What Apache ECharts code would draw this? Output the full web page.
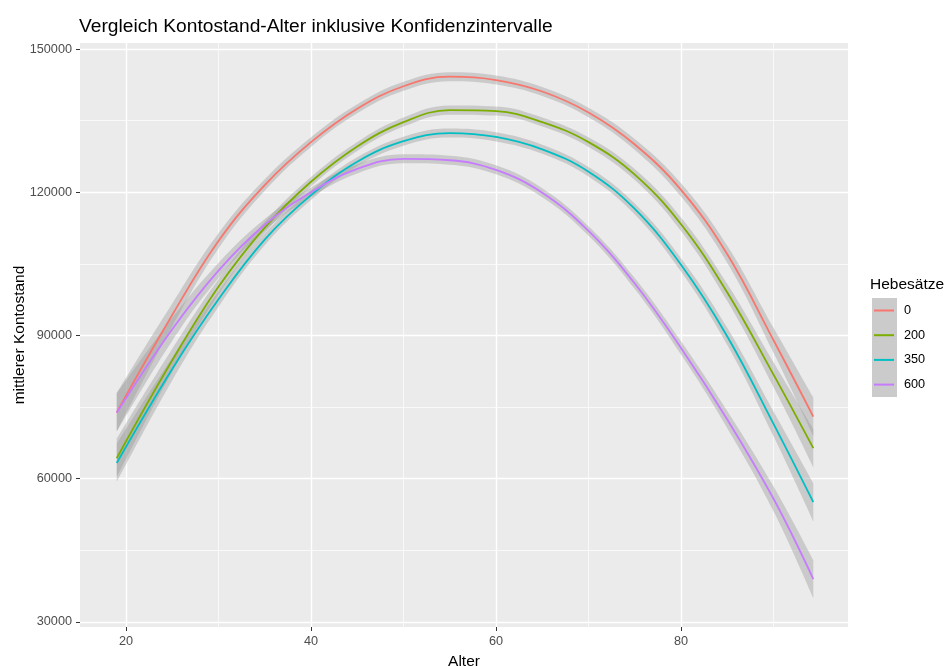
<!DOCTYPE html>
<html>
<head>
<meta charset="utf-8">
<script src="https://cdn.jsdelivr.net/npm/echarts@6/dist/echarts.min.js"></script>
<style>
  html, body { margin: 0; padding: 0; background: #ffffff; }
  #chart { width: 948px; height: 666px; }
</style>
</head>
<body>
<div id="chart"></div>
<script>
// Alter (x) and smoothed mean account balance per Hebesatz group
const ages = [19, 25, 30, 35, 40, 45, 50, 55, 60, 65, 70, 75, 80, 85, 90, 94.3];
const kontostand0   = [73900, 94300, 109800, 121500, 130500, 137500, 142200, 144200, 143500, 141100, 136700, 130000, 120500, 107000, 89000, 73000];
const kontostand200 = [64300, 84800, 100200, 112600, 122200, 129600, 134700, 137200, 137000, 134700, 130500, 123700, 113300, 99000, 81800, 66400];
const kontostand350 = [63300, 83000, 97600, 110100, 119400, 126400, 130700, 132400, 131600, 129000, 124300, 116500, 104800, 89800, 71500, 55100];
const kontostand600 = [73800, 91300, 103600, 113200, 120000, 124900, 127000, 126700, 124700, 119900, 111900, 100900, 87400, 72400, 55800, 39000];
// half width of the confidence band at each age
const bandHalf = [4000, 2400, 1600, 1200, 1000, 950, 950, 950, 950, 950, 1000, 1150, 1400, 1800, 2600, 4000];

const groups = ['0', '200', '350', '600'];
const groupValues = [kontostand0, kontostand200, kontostand350, kontostand600];
const groupColors = ['#F8766D', '#7CAE00', '#00BFC4', '#C77CFF'];

const xTicks = [20, 40, 60, 80];
const xMinorTicks = [30, 50, 70, 90];
const yTicks = [30000, 60000, 90000, 120000, 150000];
const yMinorTicks = [45000, 75000, 105000, 135000];

const FONT = 'Liberation Sans, Arial, sans-serif';
const SMOOTH = 0.4;

function gridLines() {
  const lines = [];
  xTicks.forEach(v => lines.push({ xAxis: v, lineStyle: { width: 1.4 } }));
  xMinorTicks.forEach(v => lines.push({ xAxis: v, lineStyle: { width: 0.7 } }));
  yTicks.forEach(v => lines.push({ yAxis: v, lineStyle: { width: 1.4 } }));
  yMinorTicks.forEach(v => lines.push({ yAxis: v, lineStyle: { width: 0.7 } }));
  return lines;
}

// Band rows are stored as [value, age] so that stacking acts on the value column.
const series = [];
groupValues.forEach((vals, i) => {
  const lower = {
    type: 'line', stack: 'band' + i, silent: true, smooth: SMOOTH,
    encode: { x: 1, y: 0 },
    symbol: 'none', lineStyle: { opacity: 0 }, z: 2,
    data: ages.map((a, k) => [vals[k] - bandHalf[k], a])
  };
  if (i === 0) {
    lower.markLine = {
      silent: true, symbol: 'none', z: 1, animation: false,
      label: { show: false },
      lineStyle: { color: '#ffffff', type: 'solid' },
      data: gridLines()
    };
  }
  series.push(lower);
  series.push({
    type: 'line', stack: 'band' + i, silent: true, smooth: SMOOTH,
    encode: { x: 1, y: 0 },
    symbol: 'none', lineStyle: { opacity: 0 }, z: 2,
    areaStyle: { color: 'rgba(153,153,153,0.4)', opacity: 1 },
    data: ages.map((a, k) => [2 * bandHalf[k], a])
  });
});
groupValues.forEach((vals, i) => {
  series.push({
    name: groups[i], type: 'line', smooth: SMOOTH,
    symbol: 'none', z: 3,
    lineStyle: { color: groupColors[i], width: 1.8 },
    itemStyle: { color: groupColors[i] },
    data: ages.map((a, k) => [a, vals[k]])
  });
});

const chart = echarts.init(document.getElementById('chart'), null, { renderer: 'canvas' });
chart.setOption({
  animation: false,
  backgroundColor: '#ffffff',
  title: [
    {
      text: 'Vergleich Kontostand-Alter inklusive Konfidenzintervalle',
      left: 79, top: 17, padding: 0,
      textStyle: { fontFamily: FONT, fontSize: 19.2, fontWeight: 'normal', color: '#000000' }
    },
    {
      text: 'Hebesätze',
      left: 870, top: 277, padding: 0,
      textStyle: { fontFamily: FONT, fontSize: 15.5, fontWeight: 'normal', color: '#000000' }
    }
  ],
  grid: {
    left: 80, top: 43, width: 768, height: 584,
    outerBoundsMode: 'none', containLabel: false,
    show: true, backgroundColor: '#EBEBEB', borderWidth: 0
  },
  xAxis: {
    type: 'value', min: 15.03, max: 98.05,
    name: 'Alter', nameLocation: 'middle', nameGap: 27, nameMoveOverlap: false,
    nameTextStyle: { fontFamily: FONT, fontSize: 15.5, color: '#000000' },
    axisLine: { show: false },
    axisTick: { show: true, length: 4, customValues: xTicks, lineStyle: { color: '#333333', width: 1 } },
    axisLabel: { customValues: xTicks, margin: 8, fontFamily: FONT, fontSize: 12.7, color: '#4D4D4D' },
    splitLine: { show: false }
  },
  yAxis: {
    type: 'value', min: 28950, max: 151260,
    name: 'mittlerer Kontostand', nameLocation: 'middle', nameGap: 52, nameRotate: 90,
    nameMoveOverlap: false,
    nameTextStyle: { fontFamily: FONT, fontSize: 15.5, color: '#000000' },
    axisLine: { show: false },
    axisTick: { show: true, length: 4, customValues: yTicks, lineStyle: { color: '#333333', width: 1 } },
    axisLabel: {
      customValues: yTicks, margin: 8, fontFamily: FONT, fontSize: 12.7, color: '#4D4D4D',
      formatter: v => String(v)
    },
    splitLine: { show: false }
  },
  legend: {
    data: groups, orient: 'vertical', left: 874, top: 303,
    itemWidth: 20, itemHeight: 2, icon: 'rect', itemGap: 9.7,
    selectedMode: false, padding: 0,
    textStyle: { fontFamily: FONT, fontSize: 12.7, color: '#000000', lineHeight: 15, padding: [0, 0, 0, 5] }
  },
  graphic: [
    { type: 'rect', left: 872, top: 298, z: 0, shape: { width: 25, height: 99 }, style: { fill: '#CBCBCB' } }
  ],
  series: series
});
</script>
</body>
</html>
